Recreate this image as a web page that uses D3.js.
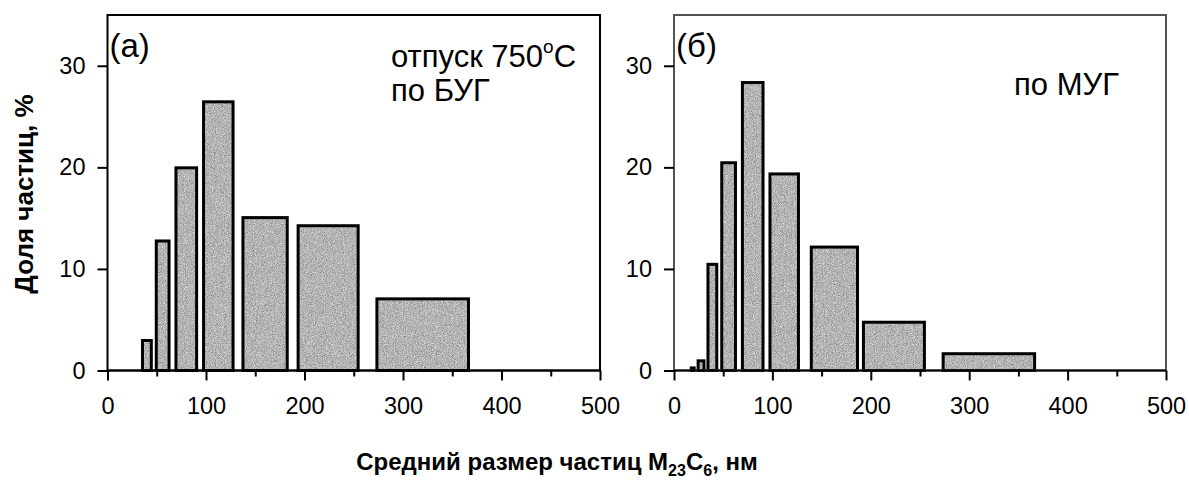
<!DOCTYPE html>
<html>
<head>
<meta charset="utf-8">
<script src="https://cdn.jsdelivr.net/npm/d3@7"></script>
<style>
  html, body { margin: 0; padding: 0; background: #fff; }
  svg { display: block; font-family: Arial, "Liberation Sans", sans-serif; }
</style>
</head>
<body>
<svg id="chart" width="1189" height="481"></svg>
<script>
// Size bins (nm) and share of particles (%) for each state
const binLowA  = [34, 48, 68, 96, 136, 192, 272];
const binHighA = [46, 64, 92, 129, 184, 256, 368];
const shareA   = [3.1, 12.9, 20.1, 26.6, 15.2, 14.4, 7.2];

const binLowB  = [16, 23, 33, 47, 68, 96, 138, 191, 272];
const binHighB = [22, 32, 45, 64, 92, 128, 188, 256, 368];
const shareB   = [0.4, 1.1, 10.6, 20.6, 28.5, 19.5, 12.3, 4.9, 1.8];

const xTicks = [0, 100, 200, 300, 400, 500];
const xMinorTicks = [50, 150, 250, 350, 450];
const yTicks = [0, 10, 20, 30];

const svg = d3.select("#chart");

// stippled grey fill for the bars
const defs = svg.append("defs");
const grain = defs.append("filter").attr("id", "grain")
  .attr("x", 0).attr("y", 0).attr("width", 1).attr("height", 1)
  .attr("color-interpolation-filters", "sRGB");
grain.append("feTurbulence").attr("type", "fractalNoise")
  .attr("baseFrequency", 1.1).attr("numOctaves", 2).attr("seed", 3).attr("result", "noise");
grain.append("feColorMatrix").attr("in", "noise").attr("type", "matrix")
  .attr("values", "0.33 0.33 0.33 0 0  0.33 0.33 0.33 0 0  0.33 0.33 0.33 0 0  0 0 0 0 1")
  .attr("result", "mono");
const ct = grain.append("feComponentTransfer").attr("in", "mono").attr("result", "tone");
["feFuncR", "feFuncG", "feFuncB"].forEach(f =>
  ct.append(f).attr("type", "linear").attr("slope", 0.9).attr("intercept", 0.26));
grain.append("feComposite").attr("in", "tone").attr("in2", "SourceGraphic").attr("operator", "in");

const panels = [
  { lo: binLowA, hi: binHighA, v: shareA, x0: 107.5, x1: 600, frame: "#000",
    tag: "(a)", notes: [["отпуск 750", "o", "C"], ["по БУГ"]], noteX: 391, noteY: 67 },
  { lo: binLowB, hi: binHighB, v: shareB, x0: 674, x1: 1166, frame: "#555",
    tag: "(б)", notes: [["по МУГ"]], noteX: 1014, noteY: 95 }
];

const yTop = 15, yBot = 370.5;
const tickFont = 23.5;

panels.forEach(p => {
  const x = d3.scaleLinear().domain([0, 500]).range([p.x0, p.x1]);
  const y = d3.scaleLinear().domain([0, 35]).range([yBot, yTop]);
  const g = svg.append("g");
  const bars = p.v.map((v, i) => ({ lo: p.lo[i], hi: p.hi[i], v }));

  // bar fills
  g.selectAll("rect.fill")
    .data(bars)
    .join("rect")
    .attr("class", "fill")
    .attr("x", d => x(d.lo) + 1.5)
    .attr("width", d => x(d.hi) - x(d.lo) - 3)
    .attr("y", d => y(d.v) + 1.5)
    .attr("height", d => y(0) - y(d.v) - 1.5)
    .attr("fill", "#b4b4b4")
    .attr("filter", "url(#grain)");

  // bar outlines
  g.selectAll("rect.bar")
    .data(bars)
    .join("rect")
    .attr("class", "bar")
    .attr("x", d => x(d.lo) + 1.5)
    .attr("width", d => x(d.hi) - x(d.lo) - 3)
    .attr("y", d => y(d.v) + 1.5)
    .attr("height", d => y(0) - y(d.v) - 1.5)
    .attr("fill", "none")
    .attr("stroke", "#000")
    .attr("stroke-width", 3);

  // frame
  g.append("rect")
    .attr("x", p.x0).attr("y", yTop)
    .attr("width", p.x1 - p.x0).attr("height", yBot - yTop)
    .attr("fill", "none").attr("stroke", p.frame).attr("stroke-width", 2);
  g.append("line")
    .attr("x1", p.x0).attr("x2", p.x1).attr("y1", yBot).attr("y2", yBot)
    .attr("stroke", "#000").attr("stroke-width", 2);

  // x axis
  const xAxis = d3.axisBottom(x).tickValues(xTicks).tickSize(10).tickPadding(17).tickFormat(d3.format("d"));
  const gx = g.append("g").attr("transform", `translate(0,${yBot})`).call(xAxis);
  gx.select(".domain").remove();
  gx.selectAll(".tick line").attr("stroke", "#000").attr("stroke-width", 2);
  gx.selectAll(".tick text").attr("font-size", tickFont).attr("fill", "#000")
    .attr("font-family", "Arial, 'Liberation Sans', sans-serif");
  const gxm = g.append("g").attr("transform", `translate(0,${yBot})`)
    .call(d3.axisBottom(x).tickValues(xMinorTicks).tickSize(6).tickFormat(""));
  gxm.select(".domain").remove();
  gxm.selectAll(".tick line").attr("stroke", "#000").attr("stroke-width", 2);

  // y axis
  const yAxis = d3.axisLeft(y).tickValues(yTicks).tickSize(10).tickPadding(12).tickFormat(d3.format("d"));
  const gy = g.append("g").attr("transform", `translate(${p.x0},0)`).call(yAxis);
  gy.select(".domain").remove();
  gy.selectAll(".tick line").attr("stroke", "#000").attr("stroke-width", 2);
  gy.selectAll(".tick text").attr("font-size", tickFont).attr("fill", "#000")
    .attr("font-family", "Arial, 'Liberation Sans', sans-serif");

  // panel tag
  g.append("text")
    .attr("x", p.x0 + 2).attr("y", 57)
    .attr("font-size", 33).text(p.tag);

  // annotation lines
  p.notes.forEach((parts, i) => {
    const t = g.append("text")
      .attr("x", p.noteX).attr("y", p.noteY + i * 34)
      .attr("font-size", 31);
    if (parts.length === 1) {
      t.text(parts[0]);
    } else {
      t.append("tspan").text(parts[0]);
      t.append("tspan").attr("font-size", 19).attr("dy", -14).text(parts[1]);
      t.append("tspan").attr("dy", 14).text(parts[2]);
    }
  });
});

// axis titles
svg.append("text")
  .attr("transform", "translate(33,194) rotate(-90)")
  .attr("text-anchor", "middle")
  .attr("font-size", 26).attr("font-weight", "bold")
  .text("Доля частиц, %");

const xt = svg.append("text")
  .attr("x", 557).attr("y", 470)
  .attr("text-anchor", "middle")
  .attr("font-size", 24).attr("font-weight", "bold");
xt.append("tspan").text("Средний размер частиц M");
xt.append("tspan").attr("font-size", 16).attr("dy", 6).text("23");
xt.append("tspan").attr("dy", -6).text("C");
xt.append("tspan").attr("font-size", 16).attr("dy", 6).text("6");
xt.append("tspan").attr("dy", -6).text(", нм");
</script>
</body>
</html>
